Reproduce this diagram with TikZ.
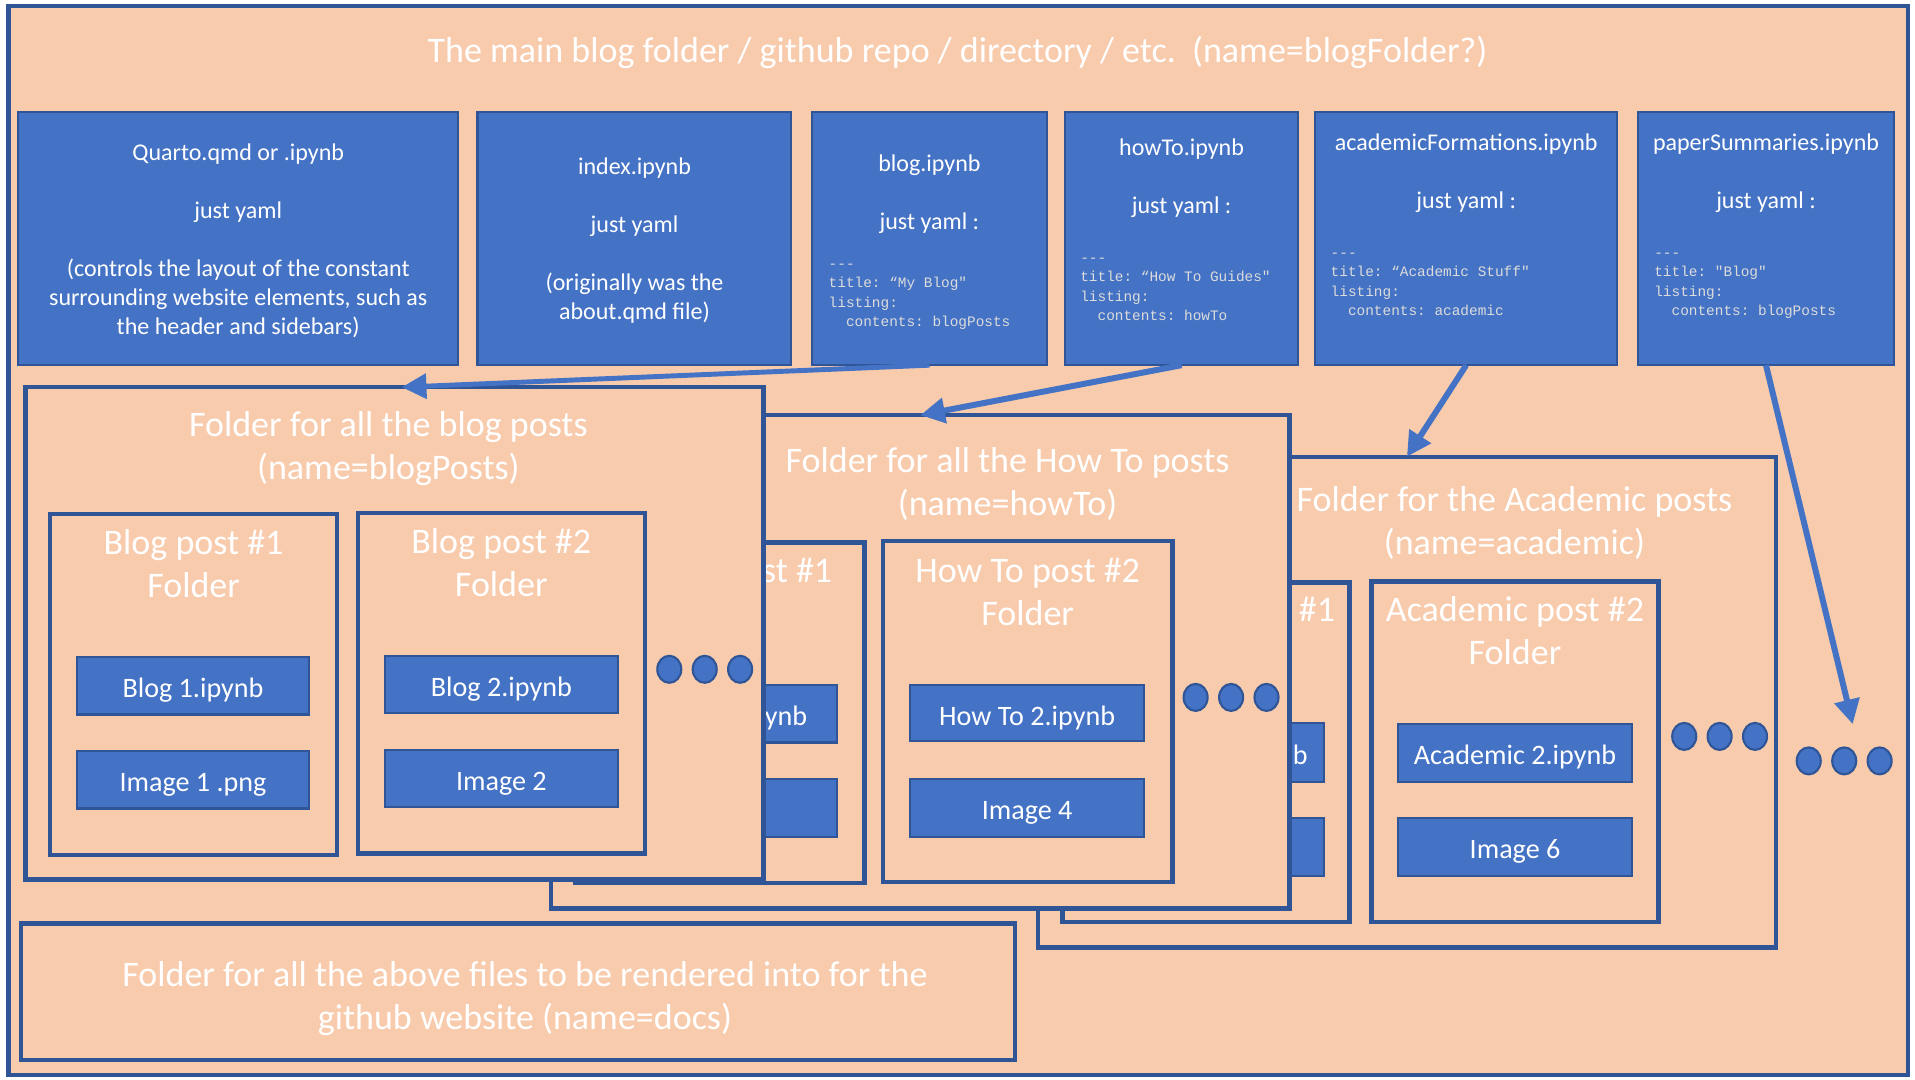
\documentclass[tikz,border=0pt]{standalone}
\usepackage{fontspec}
\setmainfont{Carlito}
\setmonofont{Liberation Mono}
\usetikzlibrary{arrows.meta,shapes.geometric,calc}
\definecolor{peach}{HTML}{F8CBAD}
\definecolor{mblue}{HTML}{4472C4}
\definecolor{dblue}{HTML}{2F5597}
\definecolor{codegray}{HTML}{DCDCDC}
\newcommand\bx[7]{\node[#1, anchor=north west, minimum width={(#4-#2)*0.01cm}, minimum height={(#5-#3)*0.01cm}] (#6) at (#2,#3) {#7};}
\newcommand\cl[1]{\vphantom{Ág}#1}
\tikzset{
  rbox/.style={rectangle, inner sep=0pt, outer sep=0pt},
  frame/.style={rbox, fill=peach, draw=dblue, line width=1.2pt},
  filebox/.style={rbox, fill=mblue, draw=dblue, line width=0.6pt},
  folder/.style={rbox, fill=peach, draw=dblue, line width=1.3pt},
  item/.style={rbox, fill=mblue, draw=dblue, line width=0.6pt, text=white, text height=0.9em, text depth=0.22em, font=\fontsize{8}{9.6}\selectfont},
  bigtxt/.style={text=white, align=center, inner sep=0pt, yshift=-0.7pt, font=\fontsize{10.24}{12.15}\selectfont},
  smalltxt/.style={text=white, align=center, inner sep=0pt, yshift=-0.6pt, font=\fontsize{6.83}{8.25}\selectfont},
  codetxt/.style={text=codegray, align=left, inner sep=0pt, anchor=west, yshift=-0.3pt, font=\ttfamily\fontsize{4.1}{5.55}\selectfont},
  dot/.style={ellipse, fill=mblue, draw=dblue, line width=0.6pt, minimum width=0.24cm, minimum height=0.27cm, inner sep=0pt},
  conn/.style={draw=mblue, line width=1.7pt, -{Triangle[length=7pt,width=7pt]}},
}
\begin{document}
\begin{tikzpicture}[x=0.01cm,y=-0.01cm]
\useasboundingbox (0,0) rectangle (1915,1080);
\fill[white] (0,0) rectangle (1915,1080);
\bx{frame}{8.5}{6.1}{1907.7}{1074.7}{outer}{}
\node[bigtxt] (title) at (957.5,50) {The main blog folder / github repo / directory / etc.\ \ (name=blogFolder?)};

% top row files
\bx{filebox}{18.3}{112.4}{458}{365.2}{quartoB}{}
\bx{filebox}{477.5}{112.4}{791.4}{365.2}{indexB}{}
\bx{filebox}{812.2}{112.4}{1046.7}{365.2}{blogB}{}
\bx{filebox}{1065}{112.4}{1298.2}{365.2}{howtoB}{}
\bx{filebox}{1315.3}{112.4}{1617}{365.2}{acadB}{}
\bx{filebox}{1637.8}{112.4}{1894.2}{365.2}{paperB}{}

\node[smalltxt] (quartoT) at (238.2,238.8) {Quarto.qmd or .ipynb\\[8.25pt]just yaml\\[8.25pt](controls the layout of the constant\\surrounding website elements, such as\\the header and sidebars)};
\node[smalltxt] (indexT) at (634.5,238.1) {index.ipynb\\[8.25pt]just yaml\\[8.25pt](originally was the\\about.qmd file)};
\node[smalltxt] (blogT) at (929.4,191.7) {blog.ipynb\\[8.25pt]just yaml :};
\node[codetxt] (blogC) at (828,291.9) {\cl{---}\\\cl{title: “My Blog"}\\\cl{listing:}\\\cl{\phantom{xx}contents: blogPosts}};
\node[smalltxt] (howtoT) at (1181.6,175.9) {howTo.ipynb\\[8.25pt]just yaml :};
\node[codetxt] (howtoC) at (1079.6,285.75) {\cl{---}\\\cl{title: “How To Guides"}\\\cl{listing:}\\\cl{\phantom{xx}contents: howTo}};
\node[smalltxt] (acadT) at (1466.2,171) {academicFormations.ipynb\\[8.25pt]just yaml :};
\node[codetxt] (acadC) at (1330,280.9) {\cl{---}\\\cl{title: “Academic Stuff"}\\\cl{listing:}\\\cl{\phantom{xx}contents: academic}};
\node[smalltxt] (paperT) at (1766,171) {paperSummaries.ipynb\\[8.25pt]just yaml :};
\node[codetxt] (paperC) at (1653.6,280.9) {\cl{---}\\\cl{title: "Blog"}\\\cl{listing:}\\\cl{\phantom{xx}contents: blogPosts}};

% academic folder (back)
\bx{folder}{1038}{456.8}{1775.8}{947.7}{acadF}{}
\node[bigtxt] (acadFT) at (1514.4,520.9) {Folder for the Academic posts\\(name=academic)};
\bx{folder}{1062.5}{582.6}{1349.5}{922.1}{acadP1}{}
\node[bigtxt] (acadP1T) at (1206,628.3) {Academic post \#1\\Folder};
\bx{item}{1089.4}{723}{1324}{781.6}{acadP1a}{Academic 1.ipynb}
\bx{item}{1089.4}{818.3}{1324}{875.7}{acadP1b}{Image 5}
\bx{folder}{1371.5}{581.3}{1658.5}{922.1}{acadP2}{}
\node[bigtxt] (acadP2T) at (1515,628.3) {Academic post \#2\\Folder};
\bx{item}{1398.4}{724.2}{1631.6}{781.6}{acadP2a}{Academic 2.ipynb}
\bx{item}{1398.4}{818.3}{1631.6}{875.7}{acadP2b}{Image 6}
\node[dot] (ad1) at (1684.2,736.4) {};
\node[dot] (ad2) at (1719.6,736.4) {};
\node[dot] (ad3) at (1755,736.4) {};

% how-to folder (middle)
\bx{folder}{550.8}{415.2}{1289.7}{908.7}{howtoF}{}
\node[bigtxt] (howtoFT) at (1007.6,481.8) {Folder for all the How To posts\\(name=howTo)};
\bx{folder}{575.2}{542.3}{864.7}{883}{howtoP1}{}
\node[bigtxt] (howtoP1T) at (720,589.2) {How To post \#1\\Folder};
\bx{item}{602}{685.1}{836.6}{742.5}{howtoP1a}{How To 1.ipynb}
\bx{item}{602}{779.2}{836.6}{836.6}{howtoP1b}{Image 3}
\bx{folder}{883}{541}{1172.4}{881.8}{howtoP2}{}
\node[bigtxt] (howtoP2T) at (1027.7,589.2) {How To post \#2\\Folder};
\bx{item}{909.9}{685.1}{1144.4}{741.3}{howtoP2a}{How To 2.ipynb}
\bx{item}{909.9}{779.2}{1144.4}{836.6}{howtoP2b}{Image 4}
\node[dot] (hd1) at (1195.6,697.4) {};
\node[dot] (hd2) at (1231.1,697.4) {};
\node[dot] (hd3) at (1266.5,697.4) {};

% blog posts folder (front)
\bx{folder}{25.6}{387.2}{763.3}{879.3}{blogF}{}
\node[bigtxt] (blogFT) at (388.4,446.4) {Folder for all the blog posts\\(name=blogPosts)};
\bx{folder}{50}{514.2}{337}{855}{blogP1}{}
\node[bigtxt] (blogP1T) at (193.6,561.1) {Blog post \#1\\Folder};
\bx{item}{77}{657}{309}{714.5}{blogP1a}{Blog 1.ipynb}
\bx{item}{77}{751}{309}{808.5}{blogP1b}{Image 1 .png}
\bx{folder}{357.8}{513}{644.8}{853.7}{blogP2}{}
\node[bigtxt] (blogP2T) at (501.3,560.5) {Blog post \#2\\Folder};
\bx{item}{384.7}{655.8}{618}{713.2}{blogP2a}{Blog 2.ipynb}
\bx{item}{384.7}{749.9}{618}{807.3}{blogP2b}{Image 2}
\node[dot] (bd1) at (669.3,669.3) {};
\node[dot] (bd2) at (704.7,669.3) {};
\node[dot] (bd3) at (740.1,669.3) {};

% docs folder
\bx{folder}{20.8}{923.3}{1014.9}{1060.1}{docsF}{}
\node[bigtxt] (docsT) at (525,996) {Folder for all the above files to be rendered into for the\\github website (name=docs)};

% far right dots
\node[dot] (rd1) at (1808.7,760.9) {};
\node[dot] (rd2) at (1844.2,760.9) {};
\node[dot] (rd3) at (1879.6,760.9) {};

% connectors
\coordinate (paperTip) at (1852.7,724.2);
\draw[conn, line width=1.4pt] (blogB.south) -- ($(blogF.north west)!0.51!(blogF.north east)$);
\draw[conn] (howtoB.south) -- (howtoF.north);
\draw[conn] (acadB.south) -- (acadF.north);
\draw[conn] (paperB.south) -- (paperTip);
\end{tikzpicture}
\end{document}
